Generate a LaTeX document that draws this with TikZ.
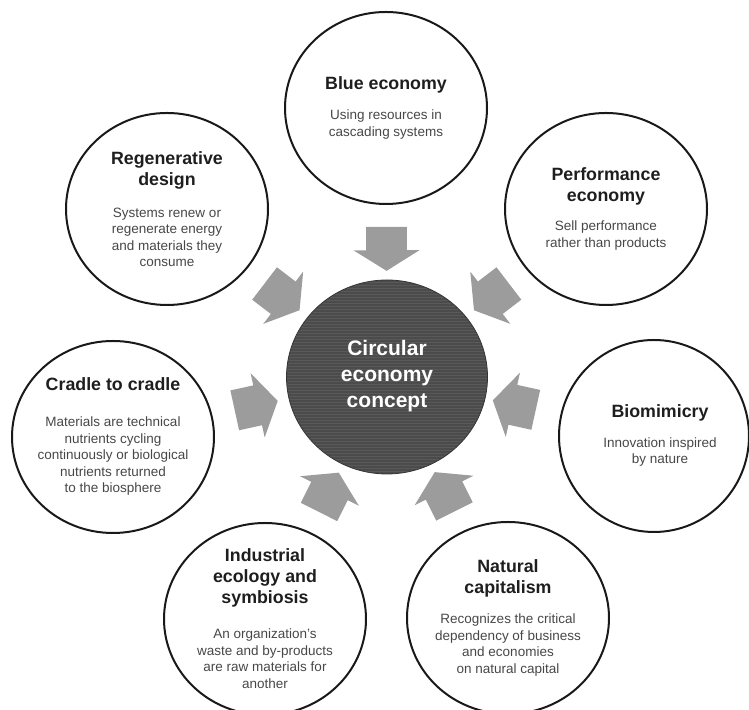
\documentclass[tikz,border=0pt]{standalone}
\usepackage{fontspec}
\setmainfont{Liberation Sans}
\usetikzlibrary{shapes.geometric,shapes.arrows,calc}
\definecolor{arrowgray}{HTML}{9C9C9C}
\definecolor{coregray}{HTML}{4B4B4B}
\definecolor{bodygray}{HTML}{474747}
\definecolor{titlegray}{HTML}{1E1E1E}

\tikzset{
  idea/.style={ellipse, draw=black!90, line width=1pt, minimum width=101pt, minimum height=96pt, inner sep=0pt},
  ideatitle/.style={align=center, text=titlegray, font=\fontsize{8.9}{10.5}\selectfont\bfseries, inner sep=0pt},
  ideatext/.style={align=center, text=bodygray, font=\fontsize{6.75}{8.25}\selectfont, inner sep=0pt},
  flowarrow/.style={single arrow, fill=arrowgray, draw=none, minimum height=22pt, inner xsep=0pt, inner ysep=10pt, single arrow head extend=6.25pt, single arrow tip angle=116},
  streak/.style={line width=0.45pt, white, opacity=0.08}
}

\begin{document}
\begin{tikzpicture}[x=0.5pt, y=0.5pt]
\useasboundingbox (0,0) rectangle (749,710);

% central concept
\node[ellipse, fill=coregray, draw=coregray!70!black, minimum width=100.5pt, minimum height=97pt, inner sep=0pt,
      path picture={
        \foreach \k in {0,...,66}
          \draw[streak] ([yshift=\k*1.5pt]path picture bounding box.south west) -- ([yshift=\k*1.5pt]path picture bounding box.south east);
      }] (core) at (387,333) {};
\node[align=center, text=white, font=\fontsize{10.5}{13}\selectfont\bfseries, inner sep=0pt] (core-t) at (387,334) {Circular\\economy\\concept};

% surrounding ideas
\node[idea] (blue) at (386,602) {};
\node[ideatitle] (blue-t) at (386,625) {Blue economy};
\node[ideatext] (blue-b) at (386,585.5) {Using resources in\\cascading systems};

\node[idea] (regen) at (167,501) {};
\node[ideatitle] (regen-t) at (167,540) {Regenerative\\design};
\node[ideatext] (regen-b) at (167,472.5) {Systems renew or\\regenerate energy\\and materials they\\consume};

\node[idea] (perf) at (606,501) {};
\node[ideatitle] (perf-t) at (606,524) {Performance\\economy};
\node[ideatext] (perf-b) at (606,474.5) {Sell performance\\rather than products};

\node[idea] (cradle) at (113,273) {};
\node[ideatitle] (cradle-t) at (113,326) {Cradle to cradle};
\node[ideatext] (cradle-b) at (113,253.5) {Materials are technical\\nutrients cycling\\continuously or biological\\nutrients returned\\to the biosphere};

\node[idea, minimum width=95pt] (bio) at (654,274) {};
\node[ideatitle] (bio-t) at (660,297) {Biomimicry};
\node[ideatext] (bio-b) at (660,258) {Innovation inspired\\by nature};

\node[idea] (indus) at (265,91) {};
\node[ideatitle] (indus-t) at (265,132.5) {Industrial\\ecology and\\symbiosis};
\node[ideatext] (indus-b) at (265,51.5) {An organization’s\\waste and by-products\\are raw materials for\\another};

\node[idea] (natural) at (508,92) {};
\node[ideatitle] (natural-t) at (508,131.5) {Natural\\capitalism};
\node[ideatext] (natural-b) at (508,65) {Recognizes the critical\\dependency of business\\and economies\\on natural capital};

% arrows into the concept
\foreach \c in {blue,regen,perf,cradle,bio,indus,natural}
  \path let \p1=($(core)-(\c)$) in
    node[flowarrow, rotate={atan2(\y1,\x1)}] (arr-\c) at ($(\c)!0.5!(core)$) {};

\end{tikzpicture}
\end{document}
